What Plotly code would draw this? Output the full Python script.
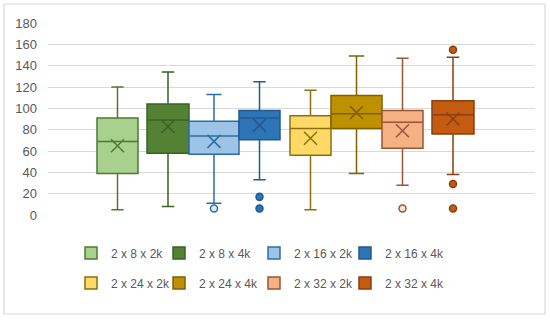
import plotly.graph_objects as go

# ---- data ----
names = ["2 x 8 x 2k", "2 x 8 x 4k", "2 x 16 x 2k", "2 x 16 x 4k",
         "2 x 24 x 2k", "2 x 24 x 4k", "2 x 32 x 2k", "2 x 32 x 4k"]
lower_whisker = [5, 8, 11, 33, 5, 39, 28, 38]
q1_values = [39, 58, 57, 70.5, 56, 81, 62.5, 76]
median_values = [69, 89, 74, 91, 81, 95, 87, 94]
q3_values = [91, 104, 88, 98, 93, 112, 98, 107]
upper_whisker = [120, 134, 113, 125, 117, 149, 147, 148]
mean_values = [65, 83, 69, 84, 72, 96, 79, 90]
outliers = [[], [], [6], [17, 6], [], [], [6], [155, 29, 6]]
y_ticks = [0, 20, 40, 60, 80, 100, 120, 140, 160, 180]

# ---- styling / layout ----
fills = ["#A9D18E", "#548235", "#9DC3E6", "#2E75B6",
         "#FFD966", "#BF9000", "#F4B183", "#C55A11"]
lines = ["#4E7A30", "#3B6125", "#2E6DA4", "#1F5A92",
         "#8C7010", "#7F6000", "#9A5534", "#8A3F10"]
outlier_fill = ["white", "white", "#DEEBF7", "#2E75B6",
                "white", "white", "#FBE5D6", "#C55A11"]
centers = [69.5, 120, 166, 211.5, 262.5, 308.5, 354.5, 405]
widths = [41, 42, 50, 41, 41, 51, 41, 42]
legend_swatch_x = [91, 179, 274, 365]   # pixel centres of legend swatches
legend_row_y = [253, 283]               # pixel centres of legend rows

FONT = "Liberation Sans"
fig = go.Figure()

legend_ids = ["legend"] + [f"legend{k}" for k in range(2, 9)]

for i, n in enumerate(names):
    fig.add_trace(go.Box(
        name=n, x=[centers[i]],
        q1=[q1_values[i]], median=[median_values[i]], q3=[q3_values[i]],
        lowerfence=[lower_whisker[i]], upperfence=[upper_whisker[i]],
        width=widths[i], whiskerwidth=0.3,
        fillcolor=fills[i], line=dict(color=lines[i], width=1.5),
        boxpoints=False, hoverinfo="skip", showlegend=True,
        legend=legend_ids[i],
    ))

for i, n in enumerate(names):
    fig.add_trace(go.Scatter(
        x=[centers[i]], y=[mean_values[i]], mode="markers",
        marker=dict(symbol="x-thin-open", size=13, color=lines[i],
                    line=dict(color=lines[i], width=1.5)),
        showlegend=False, hoverinfo="skip",
    ))
    if outliers[i]:
        fig.add_trace(go.Scatter(
            x=[centers[i]] * len(outliers[i]), y=outliers[i], mode="markers",
            marker=dict(symbol="circle", size=7, color=outlier_fill[i],
                        line=dict(color=lines[i], width=1.5)),
            showlegend=False, hoverinfo="skip",
        ))

# chart border
fig.add_shape(type="rect", xref="paper", yref="paper",
              x0=(4 - 48) / 487, x1=(545 - 48) / 487,
              y0=(215 - 314) / 192, y1=(215 - 4) / 192,
              line=dict(color="#D9D9D9", width=1.2), fillcolor="rgba(0,0,0,0)",
              layer="below")

legend_common = dict(orientation="h", xanchor="left", yanchor="middle",
                     font=dict(size=12, color="#595959", family=FONT),
                     itemwidth=30, bgcolor="rgba(0,0,0,0)")

legend_layout = {}
for i in range(8):
    cx = legend_swatch_x[i % 4]
    cy = legend_row_y[i // 4]
    legend_layout[legend_ids[i]] = dict(x=(cx - 20 - 48) / 487,
                                        y=(215 - cy) / 192, **legend_common)

fig.update_layout(
    width=550, height=320,
    margin=dict(l=48, r=15, t=23, b=105, autoexpand=False),
    paper_bgcolor="white", plot_bgcolor="white",
    font=dict(family=FONT, size=12, color="#595959"),
    xaxis=dict(range=[0, 487], showticklabels=False, showgrid=False,
               zeroline=False, showline=False, ticks=""),
    yaxis=dict(range=[0, 180], tickvals=y_ticks, showgrid=True,
               gridcolor="#D9D9D9", gridwidth=1, zeroline=False,
               showline=False, ticks="", ticklabelstandoff=10,
               tickfont=dict(size=13, color="#595959")),
    showlegend=True,
    **legend_layout,
)

fig.write_html("out.html", config={"displayModeBar": False},
               post_script="document.body.style.margin='0';")
